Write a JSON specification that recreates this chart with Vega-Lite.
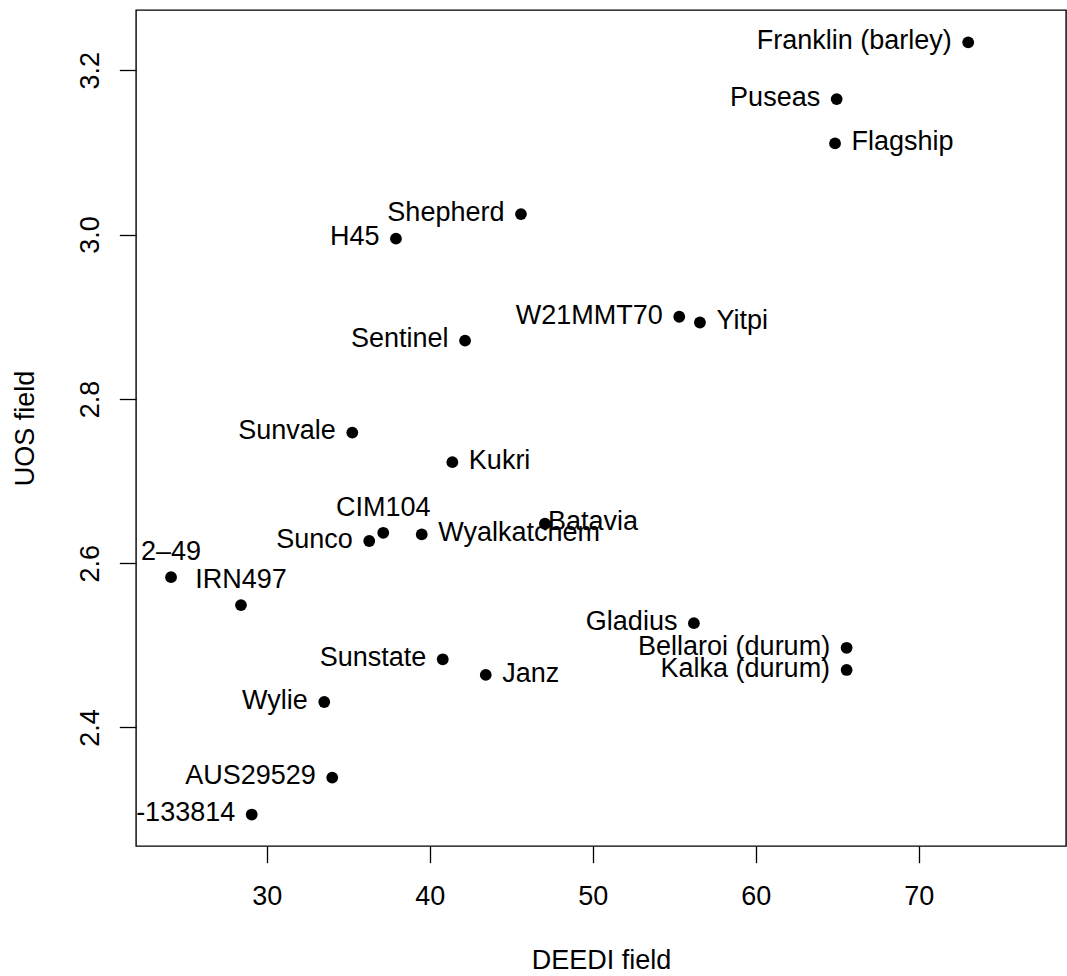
{
  "$schema": "https://vega.github.io/schema/vega-lite/v6.json",
  "width": 930,
  "height": 836,
  "autosize": {"type": "none"},
  "padding": {"left": 136, "top": 10, "right": 1, "bottom": 130},
  "background": "white",
  "config": {
    "font": "Liberation Sans",
    "view": {"stroke": "black", "strokeWidth": 1.4},
    "axis": {
      "grid": false,
      "domain": false,
      "ticks": true,
      "tickSize": 16.7,
      "tickColor": "black",
      "tickWidth": 1.3,
      "labelFont": "Liberation Sans",
      "labelFontSize": 27,
      "labelColor": "black",
      "titleFont": "Liberation Sans",
      "titleFontSize": 27,
      "titleFontWeight": "normal",
      "titleColor": "black"
    }
  },
  "data": {
    "values": [
      {"variety": "Franklin (barley)", "DEEDI": 73.04, "UOS": 3.234},
      {"variety": "Puseas", "DEEDI": 64.97, "UOS": 3.165},
      {"variety": "Flagship", "DEEDI": 64.87, "UOS": 3.111},
      {"variety": "Shepherd", "DEEDI": 45.6, "UOS": 3.025},
      {"variety": "H45", "DEEDI": 37.93, "UOS": 2.995},
      {"variety": "W21MMT70", "DEEDI": 55.31, "UOS": 2.9},
      {"variety": "Yitpi", "DEEDI": 56.58, "UOS": 2.893},
      {"variety": "Sentinel", "DEEDI": 42.17, "UOS": 2.871},
      {"variety": "Sunvale", "DEEDI": 35.25, "UOS": 2.759},
      {"variety": "Kukri", "DEEDI": 41.39, "UOS": 2.723},
      {"variety": "CIM104", "DEEDI": 37.15, "UOS": 2.637},
      {"variety": "Sunco", "DEEDI": 36.29, "UOS": 2.627},
      {"variety": "Wyalkatchem", "DEEDI": 39.51, "UOS": 2.635},
      {"variety": "Batavia", "DEEDI": 47.07, "UOS": 2.648},
      {"variety": "2–49", "DEEDI": 24.13, "UOS": 2.583},
      {"variety": "IRN497", "DEEDI": 28.42, "UOS": 2.549},
      {"variety": "Gladius", "DEEDI": 56.21, "UOS": 2.527},
      {"variety": "Bellaroi (durum)", "DEEDI": 65.58, "UOS": 2.497},
      {"variety": "Kalka (durum)", "DEEDI": 65.58, "UOS": 2.47},
      {"variety": "Sunstate", "DEEDI": 40.8, "UOS": 2.483},
      {"variety": "Janz", "DEEDI": 43.44, "UOS": 2.464},
      {"variety": "Wylie", "DEEDI": 33.53, "UOS": 2.431},
      {"variety": "AUS29529", "DEEDI": 34.02, "UOS": 2.339},
      {"variety": "-133814", "DEEDI": 29.08, "UOS": 2.294}
    ]
  },
  "encoding": {
    "x": {
      "field": "DEEDI",
      "type": "quantitative",
      "scale": {"domain": [21.98, 79.04], "nice": false, "zero": false},
      "axis": {
        "title": "DEEDI field",
        "values": [30, 40, 50, 60, 70],
        "labelBaseline": "alphabetic",
        "labelPadding": 41.3,
        "titleX": 465,
        "titleY": 122.6,
        "titleAlign": "center",
        "titleBaseline": "alphabetic"
      }
    },
    "y": {
      "field": "UOS",
      "type": "quantitative",
      "scale": {"domain": [2.2557, 3.2734], "nice": false, "zero": false},
      "axis": {
        "title": "UOS field",
        "values": [2.4, 2.6, 2.8, 3.0, 3.2],
        "format": ".1f",
        "labelAngle": -90,
        "labelAlign": "center",
        "labelBaseline": "alphabetic",
        "labelPadding": 21.3,
        "titleAngle": -90,
        "titleX": -102.5,
        "titleY": 418,
        "titleAlign": "center",
        "titleBaseline": "alphabetic"
      }
    }
  },
  "layer": [
    {
      "mark": {"type": "point", "shape": "circle", "filled": true, "color": "black", "size": 139, "opacity": 1}
    },
    {
      "transform": [{"filter": {"field": "variety", "oneOf": ["Franklin (barley)", "Puseas", "Shepherd", "H45", "W21MMT70", "Sentinel", "Sunvale", "Sunco", "Gladius", "Bellaroi (durum)", "Kalka (durum)", "Sunstate", "Wylie", "AUS29529", "-133814"]}}],
      "mark": {"type": "text", "align": "right", "baseline": "alphabetic", "dx": -16.5, "dy": 6.8, "fontSize": 27, "color": "black", "clip": true},
      "encoding": {"text": {"field": "variety"}}
    },
    {
      "transform": [{"filter": {"field": "variety", "oneOf": ["Flagship", "Yitpi", "Kukri", "Wyalkatchem", "Janz"]}}],
      "mark": {"type": "text", "align": "left", "baseline": "alphabetic", "dx": 16.5, "dy": 6.8, "fontSize": 27, "color": "black", "clip": true},
      "encoding": {"text": {"field": "variety"}}
    },
    {
      "transform": [{"filter": {"field": "variety", "equal": "Batavia"}}],
      "mark": {"type": "text", "align": "left", "baseline": "alphabetic", "dx": 3, "dy": 6.3, "fontSize": 27, "color": "black", "clip": true},
      "encoding": {"text": {"field": "variety"}}
    },
    {
      "transform": [{"filter": {"field": "variety", "oneOf": ["CIM104", "2–49", "IRN497"]}}],
      "mark": {"type": "text", "align": "center", "baseline": "alphabetic", "dy": -17, "fontSize": 27, "color": "black", "clip": true},
      "encoding": {"text": {"field": "variety"}}
    }
  ]
}
